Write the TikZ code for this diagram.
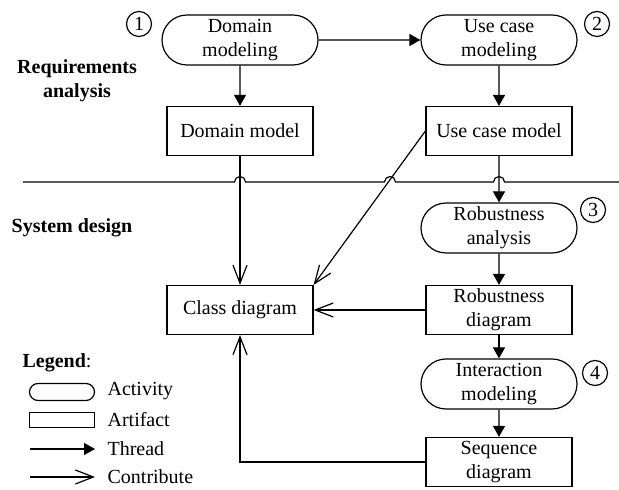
\documentclass[tikz,border=0pt]{standalone}
\usepackage{fontspec}
\setmainfont{Liberation Serif}
\usetikzlibrary{shapes.misc}
\usetikzlibrary{arrows.meta}

\tikzset{
    activity/.style={draw, rounded rectangle, minimum width=80pt, minimum height=25pt, align=center, inner sep=1pt},
    artifact/.style={draw, rectangle, minimum width=73pt, minimum height=24.5pt, align=center, inner sep=1pt},
    stepnum/.style={draw, circle, inner sep=0pt, minimum size=12.5pt},
    phase/.style={font=\bfseries, align=center},
    legtext/.style={anchor=west, inner sep=0pt},
    thread/.style={-{Triangle[length=5.5pt,width=6pt]}},
    contrib/.style={-{Straight Barb[length=9pt,width=7pt]}},
}

\begin{document}
\begin{tikzpicture}[x=0.5pt, y=0.5pt, line width=0.6pt]
    \useasboundingbox (0,0) rectangle (619,490);

    % Fases
    \node[phase] (req) at (77,409) {Requirements\\analysis};
    \node[phase] (sys) at (72,262) {System design};

    % Linea divisoria con saltos en los cruces
    \draw (23,308) -- (234.5,308) arc (180:0:5.5) -- (384.5,308) arc (180:0:5.5)
          -- (493.5,308) arc (180:0:5.5) -- (619,308);

    % Actividades
    \node[activity] (dmod) at (240,450) {Domain\\modeling};
    \node[activity] (ucmod) at (499,450) {Use case\\modeling};
    \node[activity] (rana) at (499,262) {Robustness\\analysis};
    \node[activity] (imod) at (499,106) {Interaction\\modeling};

    % Numeros de paso
    \node[stepnum] (n1) at (139,466) {1};
    \node[stepnum] (n2) at (597,466) {2};
    \node[stepnum] (n3) at (593,280) {3};
    \node[stepnum] (n4) at (595,117) {4};

    % Artefactos
    \node[artifact] (dmodel) at (240,359) {Domain model};
    \node[artifact] (ucmodel) at (499,359) {Use case model};
    \node[artifact] (cls) at (240,180) {Class diagram};
    \node[artifact] (rdiag) at (499,180) {Robustness\\diagram};
    \node[artifact] (sdiag) at (499,28) {Sequence\\diagram};

    % Hilos
    \draw[thread] (dmod) -- (ucmod);
    \draw[thread] (dmod) -- (dmodel);
    \draw[thread] (ucmod) -- (ucmodel);
    \draw[thread] (ucmodel) -- (rana);
    \draw[thread] (rana) -- (rdiag);
    \draw[thread] (rdiag) -- (imod);
    \draw[thread] (imod) -- (sdiag);

    % Contribuciones
    \draw[contrib] (dmodel) -- (cls);
    \draw[contrib] (ucmodel.west) -- (cls.north east);
    \draw[contrib] (rdiag) -- (cls);
    \draw[contrib] (sdiag.west) -| (cls.south);

    % Leyenda
    \node[legtext] (legtitle) at (22,127) {\textbf{Legend}:};
    \node[draw, rounded rectangle, minimum width=32.5pt, minimum height=8.5pt, inner sep=0pt] (legact) at (62,98) {};
    \node[legtext] (legacttxt) at (107,99) {Activity};
    \node[draw, minimum width=32.5pt, minimum height=7.5pt, inner sep=0pt] (legart) at (62,70) {};
    \node[legtext] (legarttxt) at (107,70) {Artifact};
    \coordinate (thr0) at (30,41);
    \coordinate (thr1) at (95,41);
    \draw[thread] (thr0) -- (thr1);
    \node[legtext] (legthrtxt) at (107,41) {Thread};
    \coordinate (con0) at (30,13);
    \coordinate (con1) at (95,13);
    \draw[contrib] (con0) -- (con1);
    \node[legtext] (legcontxt) at (107,13) {Contribute};

\end{tikzpicture}
\end{document}
